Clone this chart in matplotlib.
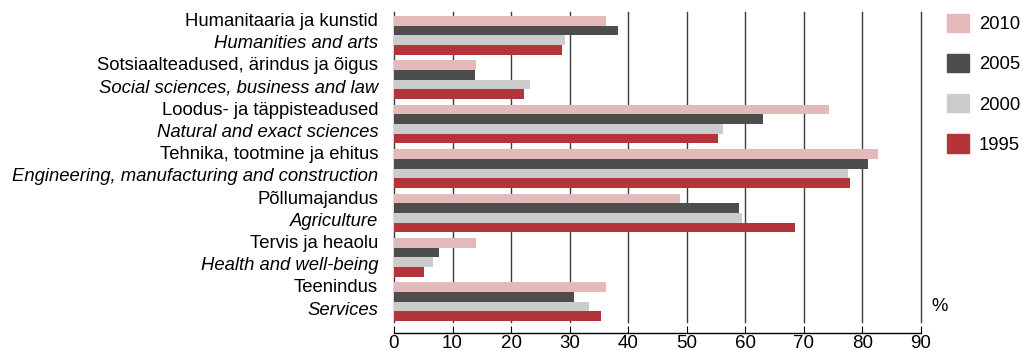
import numpy as np
import matplotlib
matplotlib.use("Agg")
import matplotlib.pyplot as plt
from matplotlib.patches import Patch

plt.rcParams['font.family'] = ['Liberation Sans', 'DejaVu Sans']

labels_et = ["Humanitaaria ja kunstid", "Sotsiaalteadused, ärindus ja õigus",
             "Loodus- ja täppisteadused", "Tehnika, tootmine ja ehitus",
             "Põllumajandus", "Tervis ja heaolu", "Teenindus"]
labels_en = ["Humanities and arts", "Social sciences, business and law",
             "Natural and exact sciences", "Engineering, manufacturing and construction",
             "Agriculture", "Health and well-being", "Services"]

years = ["2010", "2005", "2000", "1995"]
v2010 = [36.2, 14.0, 74.2, 82.7, 48.8, 14.0, 36.2]
v2005 = [38.2, 13.9, 63.1, 81.0, 58.9, 7.7, 30.7]
v2000 = [29.2, 23.2, 56.1, 77.6, 59.4, 6.6, 33.3]
v1995 = [28.7, 22.2, 55.3, 77.8, 68.4, 5.2, 35.4]
colors = ["#e3b9ba", "#4d4d4d", "#cccccc", "#b33539"]

fig = plt.figure(figsize=(10.22, 3.51), dpi=100)
ax = fig.add_axes([0.3855, 0.0826, 0.5157, 0.8832])

y = np.arange(len(labels_et))
h = 0.217
offsets = [-1.5 * h, -0.5 * h, 0.5 * h, 1.5 * h]
for vals, off, c in zip([v2010, v2005, v2000, v1995], offsets, colors):
    ax.barh(y + off, vals, height=h, color=c, zorder=3)

ax.set_xlim(0, 90)
ax.set_ylim(6.457, -0.525)
ax.set_xticks(range(0, 91, 10))
ax.set_yticks([])
# vertical gridlines, incl. the one at 90 which sits on the axes edge
for x in range(0, 91, 10):
    ax.axvline(x, color="#3c3c3c", lw=1, zorder=2, clip_on=False)

for s in ["left", "top", "right"]:
    ax.spines[s].set_visible(False)
ax.spines["bottom"].set_position(("outward", 8))
ax.spines["bottom"].set_linewidth(1)
ax.tick_params(axis="x", direction="in", length=5, labelsize=13.5, pad=1)

for i in range(len(labels_et)):
    ax.text(-0.03, i - 0.31, labels_et[i], transform=ax.get_yaxis_transform(),
            ha="right", va="center", fontsize=13.3)
    ax.text(-0.03, i + 0.19, labels_en[i], transform=ax.get_yaxis_transform(),
            ha="right", va="center", fontsize=13.3, style="italic")

ax.text(1.02, 0.05, "%", transform=ax.transAxes, ha="left", va="center", fontsize=13.3)

handles = [Patch(color=c) for c in colors]
ax.legend(handles, years, loc="upper left", bbox_to_anchor=(1.05, 0.995),
          frameon=False, fontsize=13.3, handlelength=1.15, handleheight=1.15,
          handletextpad=0.55, labelspacing=1.13, borderaxespad=0, borderpad=0)

fig.savefig("out.png", dpi=100)
plt.close()
